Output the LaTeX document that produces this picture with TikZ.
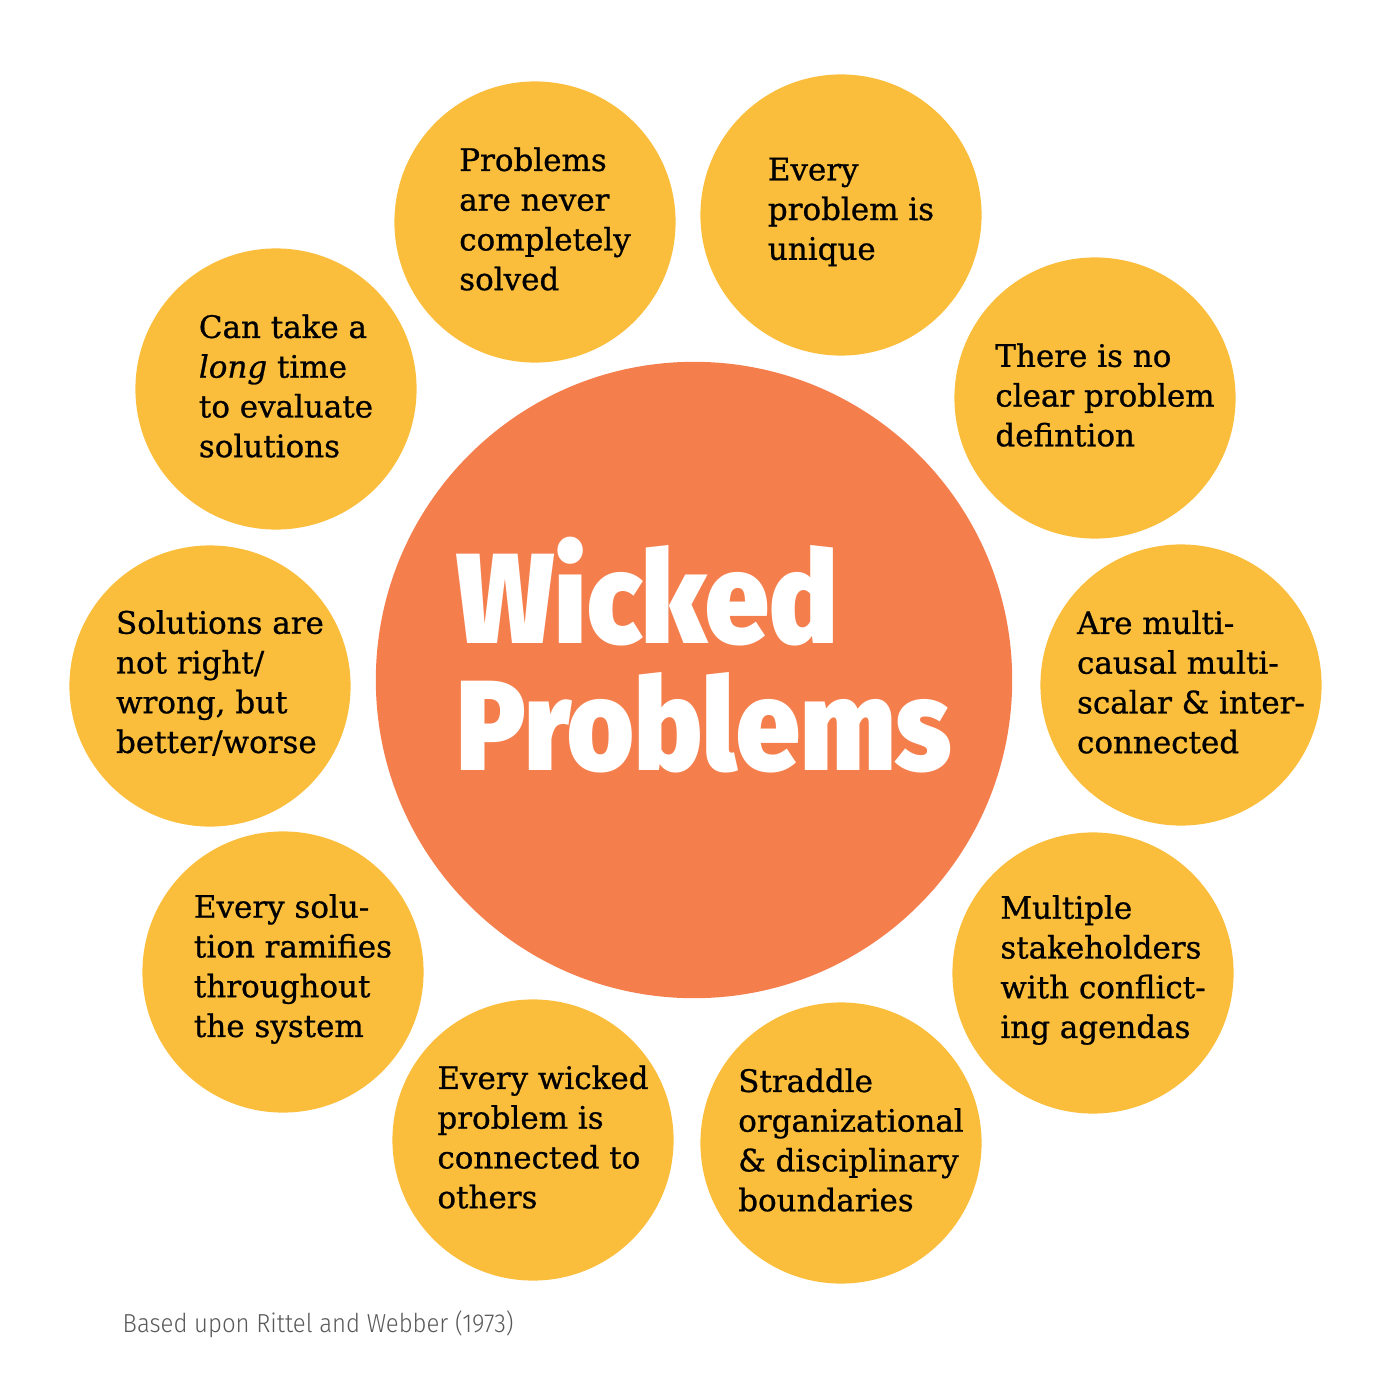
\documentclass[tikz,border=0pt]{standalone}
\usepackage{fontspec}
\setmainfont{DejaVu Serif}[FakeBold=0.8]
\newfontfamily\titlefont{Fira Sans Black}[FakeStretch=0.89]
\newfontfamily\notefont{Fira Sans Light}[FakeStretch=0.92]
\usetikzlibrary{shapes.geometric}
\definecolor{wickedorange}{RGB}{245,126,77}
\definecolor{traityellow}{RGB}{251,190,60}
\tikzstyle{core} = [circle, inner sep=0pt, minimum size=6.36cm, fill=wickedorange]
\tikzstyle{headline} = [anchor=base west, inner sep=0pt, text=white, font=\titlefont\fontsize{36.5}{36.5}\selectfont]
\tikzstyle{trait} = [circle, inner sep=0pt, minimum size=2.81cm, fill=traityellow]
\tikzstyle{traittext} = [align=left, inner sep=0pt, xshift=0.1cm, yshift=0.03cm, text=black, font=\fontsize{8.8}{11.3}\selectfont]
\tikzstyle{credit} = [anchor=base west, inner sep=0pt, text=black!65, font=\notefont\fontsize{7.4}{9}\selectfont]

\begin{document}
\begin{tikzpicture}[x=0.01cm, y=-0.01cm]
	\useasboundingbox (0,0) rectangle (1400,1400);

	\node (wp) [core] at (694,680) {};
	\node (wicked) [headline] at (456,643) {Wicked};
	\node (problems) [headline] at (456,770) {Problems};

	\node (solved) [trait] at (535,222) {};
	\node (unique) [trait] at (841,215) {};
	\node (defn) [trait] at (1095,398) {};
	\node (causal) [trait] at (1181,685) {};
	\node (stake) [trait] at (1093,973) {};
	\node (bound) [trait] at (841,1143) {};
	\node (linked) [trait] at (533,1140) {};
	\node (ramify) [trait] at (283,972) {};
	\node (right) [trait] at (210,686) {};
	\node (eval) [trait] at (276,389) {};

	\node (solvedtxt) [traittext] at (solved) {Problems\\are never\\completely\\solved};
	\node (uniquetxt) [traittext] at (unique) {Every\\problem is\\unique};
	\node (defntxt) [traittext] at (defn) {There is no\\clear problem\\defintion};
	\node (causaltxt) [traittext] at (causal) {Are multi-\\causal multi-\\scalar \& inter-\\connected};
	\node (staketxt) [traittext] at (stake) {Multiple\\stakeholders\\with conflict-\\ing agendas};
	\node (boundtxt) [traittext] at (bound) {Straddle\\organizational\\\& disciplinary\\boundaries};
	\node (linkedtxt) [traittext] at (linked) {Every wicked\\problem is\\connected to\\others};
	\node (ramifytxt) [traittext] at (ramify) {Every solu-\\tion ramifies\\throughout\\the system};
	\node (righttxt) [traittext] at (right) {Solutions are\\not right/\\wrong, but\\better/worse};
	\node (evaltxt) [traittext] at (eval) {Can take a\\\textit{long} time\\to evaluate\\solutions};

	\node (src) [credit] at (122,1332) {Based upon Rittel and Webber (1973)};
\end{tikzpicture}
\end{document}
